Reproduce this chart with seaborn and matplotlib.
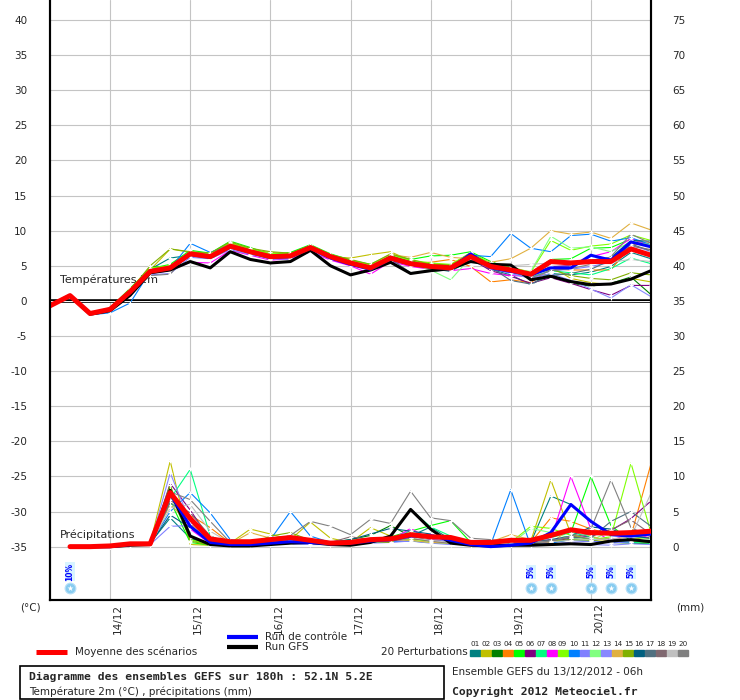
import numpy as np
import pandas as pd
import seaborn as sns
import matplotlib
matplotlib.use('Agg')
import matplotlib.pyplot as plt
import matplotlib.transforms as mtransforms
from matplotlib.lines import Line2D
from matplotlib.patches import Rectangle

# --- data ---------------------------------------------------------------
hours_t = list(range(0, 181, 6))      # temperature steps (h since 13/12 06h)
hours_p = list(range(6, 181, 6))      # 6h precipitation steps

day_hours = [18, 42, 66, 90, 114, 138, 162]
day_labels = ['14/12', '15/12', '16/12', '17/12', '18/12', '19/12', '20/12']

mean_t = [-0.7, 0.75, -1.8, -1.2, 1.3, 4.2, 4.7, 6.7, 6.3, 7.8, 7.0, 6.3, 6.4, 7.6, 6.3, 5.4,
          4.7, 6.1, 5.3, 4.9, 4.7, 6.3, 4.9, 4.4, 3.8, 5.6, 5.4, 5.6, 5.6, 7.4, 6.5]
control_t = [-0.7, 0.8, -1.8, -1.2, 1.2, 4.3, 4.6, 6.6, 6.2, 7.7, 6.9, 6.2, 6.3, 7.5, 6.1, 5.2,
             4.5, 6.0, 5.2, 4.8, 4.6, 6.7, 4.7, 4.2, 3.7, 4.7, 4.7, 6.5, 5.8, 8.4, 7.7]
gfs_t = [-0.7, 0.7, -1.9, -1.4, 0.8, 4.0, 4.4, 5.6, 4.7, 7.0, 5.9, 5.4, 5.6, 7.2, 5.0, 3.7,
         4.4, 5.5, 3.9, 4.3, 4.6, 5.6, 5.2, 5.1, 3.0, 3.5, 2.75, 2.3, 2.4, 3.1, 4.3]

pert_t = [
    [-0.6, 0.8, -1.9, -1.3, 1.0, 4.5, 6.1, 6.5, 6.0, 7.5, 7.1, 6.2, 6.8, 7.9, 6.0, 5.3, 4.6, 6.5, 5.0, 4.6, 4.2, 5.8, 4.5, 3.7, 2.3, 3.9, 3.7, 4.1, 4.9, 6.9, 6.0],
    [-0.7, 0.7, -1.8, -1.1, 1.6, 4.4, 7.4, 6.9, 6.6, 8.2, 7.3, 6.9, 6.7, 7.3, 6.3, 6.1, 6.6, 7.0, 5.7, 5.2, 5.1, 6.9, 5.2, 4.1, 3.5, 4.9, 3.2, 2.6, 2.3, 3.2, 2.7],
    [-0.8, 0.7, -1.9, -1.2, 1.5, 4.8, 4.9, 6.8, 6.2, 8.0, 7.2, 6.4, 6.6, 7.8, 6.5, 5.6, 4.9, 6.4, 5.6, 5.3, 5.0, 6.7, 5.3, 4.2, 3.4, 3.8, 2.5, 2.1, 2.5, 3.4, 0.9],
    [-0.7, 0.8, -1.8, -1.4, 0.9, 4.0, 4.5, 6.6, 6.4, 7.7, 6.9, 6.1, 6.3, 7.5, 6.1, 5.2, 4.6, 6.0, 5.4, 5.5, 5.9, 4.9, 2.7, 3.0, 2.6, 4.6, 4.4, 4.4, 4.4, 8.0, 8.3],
    [-0.6, 0.7, -1.7, -1.0, 1.8, 4.6, 5.2, 7.2, 6.8, 8.5, 7.6, 6.6, 6.9, 8.0, 6.7, 5.8, 5.2, 6.6, 5.9, 6.4, 6.5, 7.0, 5.6, 4.6, 4.0, 5.9, 6.0, 7.5, 7.6, 8.8, 7.9],
    [-0.7, 0.8, -1.9, -1.3, 1.1, 4.1, 4.6, 6.4, 6.1, 7.6, 6.8, 6.0, 6.2, 7.4, 6.2, 5.3, 4.5, 5.9, 5.2, 4.8, 4.4, 6.0, 4.3, 3.5, 2.5, 3.3, 2.5, 1.6, 0.8, 2.2, 2.2],
    [-0.6, 0.8, -1.8, -1.2, 1.4, 4.3, 4.8, 6.9, 6.5, 7.9, 7.1, 6.4, 6.5, 7.7, 6.4, 5.5, 4.8, 6.2, 5.5, 5.0, 4.8, 6.5, 4.7, 4.0, 3.4, 4.3, 4.0, 3.7, 4.6, 6.1, 5.3],
    [-0.7, 0.7, -1.8, -1.3, 1.2, 3.9, 4.3, 5.5, 5.4, 7.2, 6.5, 5.8, 6.0, 7.0, 5.8, 5.0, 3.8, 5.6, 4.9, 4.5, 4.3, 4.6, 3.9, 3.6, 3.5, 4.8, 5.1, 6.3, 7.0, 8.9, 7.8],
    [-0.8, 0.7, -1.9, -1.1, 1.7, 4.7, 5.0, 7.0, 6.6, 8.3, 7.4, 6.7, 6.7, 7.9, 6.6, 5.7, 5.1, 6.5, 5.8, 5.4, 5.2, 6.8, 5.4, 4.8, 4.1, 8.6, 7.2, 7.8, 8.1, 9.4, 8.6],
    [-0.7, 0.8, -2.0, -1.7, -0.3, 4.2, 4.6, 8.2, 6.9, 8.0, 7.2, 6.5, 6.6, 7.7, 6.4, 5.5, 4.7, 6.3, 5.5, 5.1, 4.9, 6.5, 6.3, 9.6, 7.5, 7.0, 9.3, 9.5, 8.5, 9.0, 8.0],
    [-0.7, 0.7, -1.8, -1.2, 1.2, 3.7, 3.9, 6.2, 6.0, 7.3, 6.6, 6.1, 5.9, 7.0, 6.0, 5.5, 4.4, 5.7, 5.1, 4.8, 4.6, 6.1, 4.6, 3.9, 3.2, 4.3, 4.5, 4.9, 5.5, 8.0, 7.0],
    [-0.6, 0.8, -1.8, -1.2, 1.4, 4.4, 4.9, 6.8, 6.5, 8.1, 7.1, 6.3, 6.5, 7.6, 6.3, 5.4, 4.7, 6.2, 5.3, 4.4, 3.0, 6.2, 5.0, 4.5, 4.2, 9.2, 7.5, 7.7, 7.0, 8.4, 8.0],
    [-0.7, 0.7, -1.9, -1.3, 1.0, 4.1, 4.4, 6.4, 6.0, 7.5, 6.7, 5.9, 6.1, 7.3, 6.1, 5.1, 4.5, 5.9, 5.1, 4.7, 4.5, 5.9, 4.6, 4.0, 3.2, 3.9, 2.9, 1.7, 0.4, 2.3, 0.6],
    [-0.7, 0.8, -1.8, -1.2, 1.3, 4.3, 4.7, 6.6, 6.4, 7.9, 7.2, 6.6, 6.6, 7.6, 6.4, 5.6, 5.0, 6.6, 6.2, 6.9, 6.2, 6.0, 5.5, 6.0, 7.5, 10.0, 9.5, 9.8, 8.9, 11.1, 10.1],
    [-0.7, 0.7, -1.8, -1.2, 1.5, 5.0, 7.4, 7.0, 6.8, 8.4, 7.5, 7.0, 6.8, 7.8, 6.6, 5.9, 5.2, 6.7, 5.9, 5.2, 5.1, 6.6, 5.2, 4.5, 3.8, 4.5, 3.6, 3.2, 3.0, 4.0, 3.7],
    [-0.7, 0.8, -1.9, -1.3, 1.2, 4.1, 4.6, 6.6, 6.1, 7.7, 6.9, 6.3, 6.6, 7.8, 6.5, 5.5, 4.8, 6.4, 5.4, 5.0, 4.8, 6.4, 5.0, 4.2, 3.5, 5.4, 5.5, 5.8, 6.2, 8.6, 8.5],
    [-0.7, 0.8, -1.8, -1.3, 1.1, 4.0, 4.5, 6.5, 6.2, 7.6, 6.8, 6.0, 6.2, 7.5, 6.2, 5.3, 4.6, 6.0, 4.0, 4.2, 4.4, 6.2, 4.8, 2.9, 2.4, 3.6, 3.9, 4.5, 5.8, 8.1, 7.1],
    [-0.7, 0.7, -1.8, -1.2, 1.2, 4.2, 4.5, 6.6, 6.3, 7.7, 6.9, 6.2, 6.4, 7.5, 6.2, 5.4, 4.6, 6.1, 5.3, 4.8, 4.6, 6.2, 4.9, 4.3, 3.6, 4.9, 5.0, 5.6, 6.0, 7.8, 7.3],
    [-0.7, 0.8, -1.8, -1.2, 1.3, 4.2, 4.7, 6.7, 6.3, 7.7, 6.9, 6.3, 6.4, 7.5, 6.3, 5.4, 4.7, 6.0, 5.3, 4.9, 4.8, 6.2, 5.1, 5.0, 5.2, 5.4, 5.3, 5.4, 5.5, 5.9, 5.6],
    [-0.7, 0.7, -1.8, -1.3, 1.0, 3.6, 3.8, 6.9, 6.5, 7.9, 7.2, 6.5, 6.5, 7.6, 6.4, 5.4, 4.8, 6.3, 5.5, 5.0, 4.7, 6.5, 5.0, 4.2, 3.3, 4.3, 4.6, 5.2, 6.3, 9.5, 8.2],
]

mean_p = [0, 0, 0.1, 0.4, 0.4, 7.7, 4.0, 1.1, 0.7, 0.7, 1.0, 1.3, 0.9, 0.5, 0.6,
          1.0, 1.1, 1.7, 1.4, 1.3, 0.6, 0.6, 0.9, 0.9, 1.6, 2.4, 2.0, 1.9, 2.0, 2.2]
control_p = [0, 0, 0, 0.3, 0.4, 7.5, 2.9, 0.6, 0.3, 0.3, 0.5, 0.7, 0.6, 0.4, 0.5,
             0.8, 1.0, 1.5, 1.6, 0.9, 0.3, 0.0, 0.2, 0.5, 2.0, 6.0, 3.6, 1.7, 1.5, 1.8]
gfs_p = [0, 0, 0, 0.2, 0.3, 8.0, 1.5, 0.3, 0.1, 0.1, 0.3, 0.5, 0.6, 0.3, 0.2,
         0.6, 1.5, 5.3, 2.5, 0.5, 0.2, 0.1, 0.2, 0.2, 0.3, 0.4, 0.3, 0.8, 1.0, 0.7]

pert_p = [
    [0, 0, 0, 0.3, 0.5, 4.1, 1.2, 0.3, 0.4, 0.4, 0.5, 0.6, 0.5, 0.3, 0.4, 0.8, 0.9, 1.5, 2.8, 1.0, 0.3, 0.3, 0.4, 0.6, 7.2, 6.0, 3.5, 2.0, 1.5, 1.2],
    [0, 0, 0, 0.2, 0.4, 12.2, 0.3, 0.2, 0.5, 2.5, 1.8, 1.0, 3.5, 1.2, 0.6, 2.7, 1.5, 0.8, 0.6, 0.4, 0.2, 0.2, 0.5, 0.8, 9.5, 1.8, 0.9, 0.7, 1.0, 1.4],
    [0, 0, 0, 0.3, 0.4, 8.5, 1.0, 0.3, 0.3, 0.4, 0.6, 0.8, 0.9, 0.6, 1.0, 1.6, 3.0, 1.5, 0.8, 0.5, 0.3, 0.3, 0.3, 0.4, 0.6, 1.0, 0.8, 0.6, 0.5, 0.4],
    [0, 0, 0, 0.2, 0.4, 7.0, 4.5, 2.7, 0.5, 0.4, 0.5, 0.7, 0.6, 0.4, 0.5, 0.7, 0.9, 1.2, 0.9, 0.6, 0.4, 0.4, 0.5, 0.6, 4.1, 3.6, 2.5, 1.8, 1.5, 11.8],
    [0, 0, 0, 0.3, 0.5, 6.5, 0.6, 0.2, 0.3, 0.4, 0.5, 0.6, 0.5, 0.4, 0.6, 1.0, 1.4, 2.2, 3.0, 3.7, 0.6, 0.3, 0.4, 0.8, 1.5, 2.0, 10.0, 3.0, 0.8, 0.6],
    [0, 0, 0, 0.2, 0.3, 9.0, 5.2, 1.0, 0.3, 0.3, 0.5, 0.7, 0.6, 0.5, 0.9, 0.7, 0.8, 1.1, 1.0, 0.7, 0.4, 0.3, 0.4, 0.5, 0.7, 1.2, 1.5, 2.3, 4.0, 6.5],
    [0, 0, 0, 0.2, 0.3, 6.8, 11.0, 1.5, 0.4, 0.3, 0.5, 0.8, 0.7, 0.4, 0.6, 1.1, 1.4, 5.3, 2.8, 1.5, 0.5, 0.3, 0.4, 0.6, 1.3, 2.0, 1.4, 0.8, 0.6, 0.5],
    [0, 0, 0, 0.2, 0.4, 8.0, 2.5, 0.4, 0.3, 0.3, 0.4, 0.6, 0.8, 0.6, 0.5, 0.6, 0.9, 2.6, 1.0, 0.6, 0.4, 0.3, 0.4, 0.7, 1.0, 10.0, 2.5, 0.8, 2.0, 1.2],
    [0, 0, 0, 0.3, 0.4, 7.5, 1.0, 0.3, 0.4, 0.3, 0.6, 0.5, 0.6, 0.5, 0.7, 0.9, 1.2, 1.0, 0.8, 0.7, 0.5, 0.4, 0.6, 2.9, 2.6, 1.6, 1.0, 1.4, 11.9, 2.0],
    [0, 0, 0, 0.2, 0.5, 5.0, 7.7, 4.8, 1.0, 0.6, 1.0, 5.0, 1.5, 0.6, 0.5, 0.6, 0.7, 0.8, 0.6, 0.5, 0.4, 0.3, 8.1, 0.1, 0.5, 1.0, 0.8, 0.6, 0.7, 0.8],
    [0, 0, 0, 0.2, 0.3, 2.9, 3.0, 0.8, 0.3, 0.3, 0.3, 0.4, 0.3, 0.3, 0.4, 0.5, 0.6, 0.8, 0.5, 0.3, 0.7, 0.9, 0.4, 0.3, 0.4, 0.6, 0.8, 0.5, 0.7, 0.9],
    [0, 0, 0, 0.3, 0.4, 7.2, 1.5, 0.3, 0.3, 0.4, 0.5, 0.7, 0.8, 0.7, 0.9, 1.1, 1.2, 0.9, 0.6, 0.5, 0.4, 0.3, 0.4, 2.6, 2.0, 1.2, 0.9, 2.2, 1.5, 1.0],
    [0, 0, 0, 0.2, 0.3, 10.5, 3.5, 0.6, 0.3, 0.3, 0.4, 0.5, 0.4, 0.3, 0.5, 0.6, 0.9, 2.4, 1.2, 0.6, 0.8, 0.5, 0.3, 0.3, 0.4, 0.5, 0.3, 0.2, 0.4, 0.3],
    [0, 0, 0, 0.3, 0.4, 6.0, 3.2, 1.2, 0.4, 2.0, 1.2, 0.8, 0.5, 0.4, 0.3, 0.6, 1.0, 0.9, 0.6, 0.5, 0.4, 0.7, 1.7, 1.0, 0.6, 2.5, 1.5, 0.7, 1.8, 1.1],
    [0, 0, 0, 0.2, 0.3, 8.8, 0.8, 0.2, 0.3, 0.3, 1.5, 2.0, 0.9, 0.4, 0.5, 0.7, 0.6, 2.0, 1.4, 1.0, 0.4, 0.3, 0.3, 0.5, 0.8, 1.0, 0.9, 1.2, 0.8, 0.6],
    [0, 0, 0, 0.2, 0.4, 4.5, 2.7, 0.8, 0.3, 0.4, 0.6, 0.9, 0.7, 0.6, 1.0, 1.8, 2.6, 2.2, 1.8, 0.7, 0.4, 0.3, 0.5, 0.6, 1.0, 1.5, 2.8, 2.5, 1.5, 1.2],
    [0, 0, 0, 0.2, 0.3, 6.3, 4.0, 1.2, 0.4, 0.3, 0.5, 0.6, 0.5, 0.4, 0.6, 0.8, 1.0, 1.3, 0.9, 0.6, 0.4, 0.3, 0.4, 0.6, 0.9, 1.3, 1.2, 3.6, 5.0, 2.9],
    [0, 0, 0, 0.2, 0.4, 6.6, 4.8, 1.5, 0.4, 0.4, 0.7, 1.0, 0.8, 0.6, 1.4, 1.0, 0.9, 1.2, 0.8, 0.5, 0.4, 0.3, 0.5, 0.7, 0.8, 1.4, 1.8, 2.4, 3.8, 1.8],
    [0, 0, 0, 0.2, 0.3, 5.5, 6.0, 2.2, 0.5, 0.4, 0.6, 0.8, 0.7, 0.5, 0.6, 0.7, 1.0, 1.3, 0.9, 0.6, 0.4, 0.4, 0.5, 0.6, 0.7, 0.9, 1.0, 1.1, 1.4, 7.6],
    [0, 0, 0, 0.2, 0.4, 7.8, 6.7, 3.6, 0.6, 0.5, 0.8, 1.6, 3.6, 2.9, 1.7, 3.9, 3.3, 7.9, 4.1, 3.7, 1.2, 1.0, 0.6, 0.5, 0.8, 1.5, 2.5, 9.5, 2.7, 1.4],
]

pert_names = [f'{i:02d}' for i in range(1, 21)]
pert_colors = ['#008080', '#C0C000', '#008000', '#FF8000', '#00FF00', '#800080', '#00FF80',
               '#FF00FF', '#80FF00', '#0080FF', '#8080FF', '#80FF80', '#8888FF', '#E0B040',
               '#80B000', '#006080', '#507080', '#806870', '#C0C0C0', '#808080']

snow_hours = [6, 144, 150, 162, 168, 174]
snow_pct = [10, 5, 5, 5, 5, 5]

# --- style ----------------------------------------------------------------
sns.set_style("white")
plt.rcParams['font.family'] = ['DejaVu Sans']
plt.rcParams['axes.unicode_minus'] = False
FS = 7.5

fig = plt.figure(figsize=(7.4, 7.0), dpi=100)
ax = fig.add_axes([50 / 740, 100 / 700, 601 / 740, 600 / 700])
ax.set_xlim(0, 180)
ax.set_ylim(-42.6, 42.85)
ax2 = ax.twinx()
ax2.set_ylim(-42.6 + 35, 42.85 + 35)   # mm = degC + 35

ax.set_yticks(range(-35, 41, 5))
ax.set_xticks(day_hours)
ax.set_xticklabels([])
ax.grid(True, color='#C4C4C4', lw=0.8)
ax.set_axisbelow(True)
ax.tick_params(left=False, bottom=False, labelsize=FS, pad=13)
ax2.set_yticks(range(0, 76, 5))
ax2.tick_params(right=False, labelsize=FS, pad=12)
ax2.grid(False)

for a in (ax, ax2):
    a.spines['top'].set_visible(False)
    for s in ('left', 'right', 'bottom'):
        a.spines[s].set_color('black')
        a.spines[s].set_linewidth(1.5)

# zero line (double)
ax.axhline(0, color='black', lw=2.6, zorder=1)
ax.axhline(0, color='white', lw=0.7, zorder=1)

# --- temperature spaghetti ------------------------------------------------
for vals, col in zip(pert_t, pert_colors):
    sns.lineplot(x=hours_t, y=vals, ax=ax, color=col, lw=0.8, marker='+',
                 markersize=3, markeredgewidth=0.8, zorder=2)
sns.lineplot(x=hours_t, y=gfs_t, ax=ax, color='black', lw=2.2, zorder=3)
sns.lineplot(x=hours_t, y=control_t, ax=ax, color='#0000FF', lw=2.2, zorder=3)
sns.lineplot(x=hours_t, y=mean_t, ax=ax, color='#FF0000', lw=3.6, zorder=4)

# --- precipitation spaghetti ----------------------------------------------
for vals, col in zip(pert_p, pert_colors):
    sns.lineplot(x=hours_p, y=vals, ax=ax2, color=col, lw=0.8, marker='+',
                 markersize=3, markeredgewidth=0.8, zorder=2)
sns.lineplot(x=hours_p, y=gfs_p, ax=ax2, color='black', lw=2.2, zorder=3)
sns.lineplot(x=hours_p, y=control_p, ax=ax2, color='#0000FF', lw=2.2, zorder=3)
sns.lineplot(x=hours_p, y=mean_p, ax=ax2, color='#FF0000', lw=3.6, zorder=4)
ax.set_xlim(0, 180)
ax2.set_ylim(-42.6 + 35, 42.85 + 35)

ax.text(3, 3.0, 'Températures 2m', fontsize=FS + 0.5, va='center', zorder=1.5)
ax2.text(3, 1.7, 'Précipitations', fontsize=FS + 0.5, va='center', zorder=1.5)

# --- snow probability icons ----------------------------------------------
blend = mtransforms.blended_transform_factory(ax.transData, ax.transAxes)
ax.scatter(snow_hours, [0.02] * len(snow_hours), s=60, color='#88CCF0',
           edgecolor='#B8E0F8', lw=0.8, transform=blend, zorder=5, clip_on=False)
ax.scatter(snow_hours, [0.02] * len(snow_hours), s=20, marker='*', color='white',
           lw=0, transform=blend, zorder=6, clip_on=False)
for h, p in zip(snow_hours, snow_pct):
    ax.text(h, 0.047, f'{p}%', transform=blend, rotation=90, ha='center', va='center',
            fontsize=5.5, color='#0000FF', fontweight='bold', zorder=6,
            bbox=dict(boxstyle='square,pad=0.05', fc='#D8F4FF', ec='none'))

# --- x labels ---------------------------------------------------------------
for h, lab in zip(day_hours, day_labels):
    ax.text(h + 2.4, -0.006, lab, transform=blend, rotation=90, ha='center',
            va='top', fontsize=FS)


def fx(x):
    return x / 740


def fy(y):
    return 1 - y / 700


fig.text(fx(20), fy(607), '(°C)', fontsize=FS, va='center')
fig.text(fx(676), fy(607), '(mm)', fontsize=FS, va='center')

# --- legend -----------------------------------------------------------------
fig.add_artist(Line2D([fx(36), fx(67)], [fy(652)] * 2, color='#FF0000', lw=3.6,
                      solid_capstyle='butt'))
fig.text(fx(75), fy(652), 'Moyenne des scénarios', fontsize=FS, va='center')
fig.add_artist(Line2D([fx(227), fx(258)], [fy(637)] * 2, color='#0000FF', lw=3.0,
                      solid_capstyle='butt'))
fig.text(fx(265), fy(637), 'Run de contrôle', fontsize=FS, va='center')
fig.add_artist(Line2D([fx(227), fx(258)], [fy(647)] * 2, color='black', lw=3.0,
                      solid_capstyle='butt'))
fig.text(fx(265), fy(647), 'Run GFS', fontsize=FS, va='center')
fig.text(fx(468), fy(652), '20 Perturbations', fontsize=FS, va='center', ha='right')
for i, (name, col) in enumerate(zip(pert_names, pert_colors)):
    x0 = 470 + i * 10.95
    fig.add_artist(Rectangle((fx(x0), fy(656)), 10 / 740, 6 / 700, color=col,
                             transform=fig.transFigure))
    fig.text(fx(x0 + 5), fy(644), name, fontsize=5.2, ha='center', va='center')

fig.add_artist(Rectangle((fx(20), fy(699)), 424 / 740, 33 / 700, fill=False,
                         ec='black', lw=1.2, transform=fig.transFigure))
fig.text(fx(29), fy(677), 'Diagramme des ensembles GEFS sur 180h : 52.1N 5.2E',
         fontsize=8.2, fontweight='bold', va='center', family='DejaVu Sans Mono')
fig.text(fx(29), fy(692), 'Température 2m (°C) , précipitations (mm)',
         fontsize=FS, va='center')
fig.text(fx(452), fy(672), 'Ensemble GEFS du 13/12/2012 - 06h', fontsize=FS, va='center')
fig.text(fx(452), fy(692), 'Copyright 2012 Meteociel.fr', fontsize=8.2,
         fontweight='bold', va='center', family='DejaVu Sans Mono')

fig.savefig('out.png', dpi=100)
plt.close(fig)
